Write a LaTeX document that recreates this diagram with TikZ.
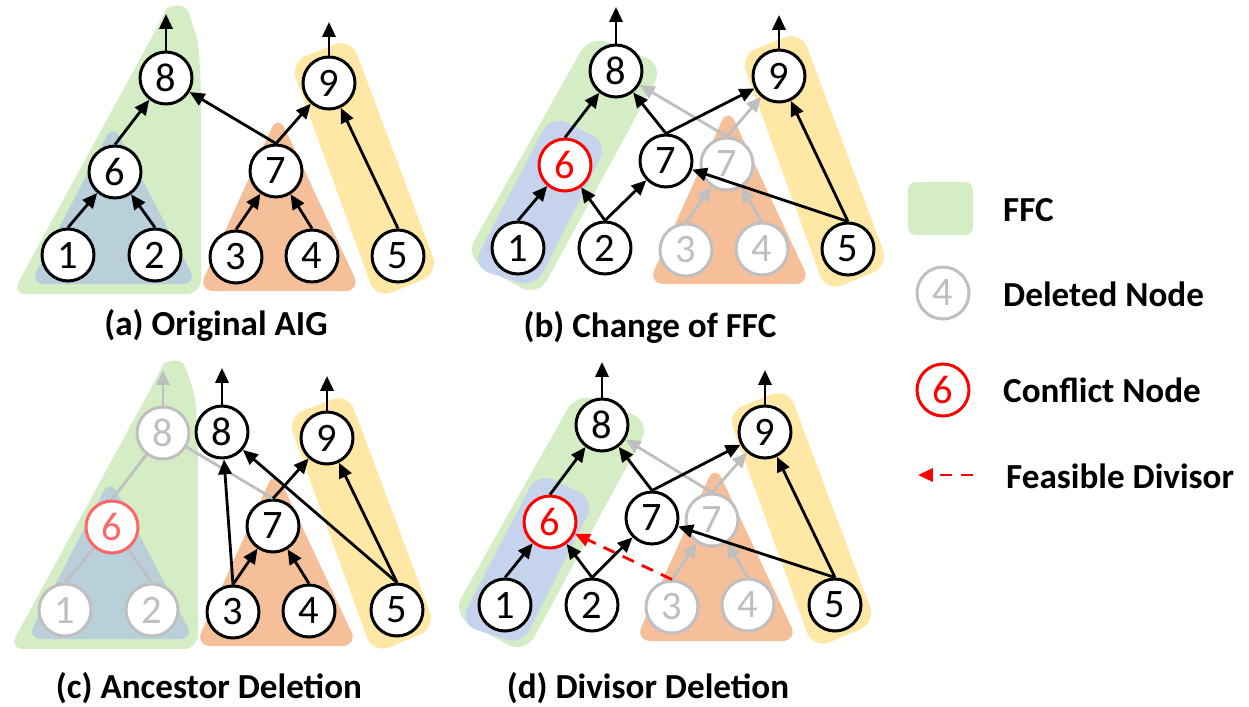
\documentclass[tikz,border=0pt]{standalone}
\usepackage{fontspec}
\setmainfont{Carlito}
\usepackage{xcolor}
\usepackage{tikz}
\usetikzlibrary{arrows.meta}
\definecolor{FFCG}{HTML}{D5EDC5}
\definecolor{INNA}{HTML}{B9CFDA}
\definecolor{INNB}{HTML}{C6D3EC}
\definecolor{CONE}{HTML}{F5BF99}
\definecolor{OUTY}{HTML}{FFE8A5}
\definecolor{DEL}{HTML}{BFBFBF}
\definecolor{CONF}{HTML}{FF0000}

\begin{document}
\begin{tikzpicture}[
    x=0.02cm, y=-0.02cm,
    aig/.style={circle, draw=black, fill=white, line width=1.7pt, minimum size=1.04cm,
      inner sep=0pt, font=\fontsize{23}{26}\selectfont},
    deleted/.style={aig, draw=DEL, text=DEL},
    conflict/.style={aig, draw=CONF, text=CONF},
    edge/.style={-{Triangle[length=8.5pt, width=7.5pt]}, line width=1.6pt},
    gedge/.style={edge, DEL},
    gline/.style={DEL, line width=1.6pt},
    divisor/.style={edge, CONF, dash pattern=on 7pt off 5pt},
    caption/.style={font=\fontsize{20}{24}\selectfont\bfseries},
    legtext/.style={font=\fontsize{20}{24}\selectfont\bfseries, anchor=west},
  ]
  \useasboundingbox (0,0) rectangle (1249,707);

  % (a) original AIG
  \begin{scope}
    \fill[FFCG, rounded corners=8pt] (12,294) -- (160,22) .. controls (168,6) and (185,2) .. (193,25)
      .. controls (199,45) and (201,80) .. (201,120) -- (201,294) -- cycle;
    \fill[INNA, rounded corners=8pt] (30,284) -- (113,124) -- (197,284) -- cycle;
    \fill[CONE, rounded corners=9pt] (198,291) -- (278,114) -- (361,291) -- cycle;
    \fill[OUTY, rounded corners=10pt] (290,62) -- (351,38) -- (439,273) -- (376,299) -- cycle;
    \node (a1) [aig] at (68,255) {1};
    \node (a2) [aig] at (155,255) {2};
    \node (a3) [aig] at (236,257) {3};
    \node (a4) [aig] at (312,256) {4};
    \node (a5) [aig] at (398,256) {5};
    \node (a6) [aig] at (115,172) {6};
    \node (a7) [aig] at (276,171) {7};
    \node (a8) [aig] at (166,78) {8};
    \node (a9) [aig] at (329,83) {9};
    \coordinate (a8o) at (166,14);
    \coordinate (a9o) at (329,22);
    \draw[edge] (a1.north) -- (a6);
    \draw[edge] (a2.north) -- (a6);
    \draw[edge] (a6.north) -- (a8);
    \draw[edge] (a3.north) -- (a7);
    \draw[edge] (a4.north) -- (a7);
    \draw[edge] (a7.north) -- (a8);
    \draw[edge] (a7.north) -- (a9);
    \draw[edge] (a5.north) -- (a9);
    \draw[edge] (a8.north) -- (a8o);
    \draw[edge] (a9.north) -- (a9o);
  \end{scope}

  % (b) change of FFC
  \begin{scope}[shift={(450,-7)}]
    \fill[FFCG, rounded corners=11pt] (140,42) -- (214,72) -- (88,304) -- (15,264) -- cycle;
    \fill[INNB, rounded corners=10pt] (101,122) -- (158,150) -- (85,295) -- (22,274) -- cycle;
    \fill[CONE, rounded corners=9pt] (198,291) -- (278,114) -- (361,291) -- cycle;
    \fill[OUTY, rounded corners=10pt] (290,62) -- (351,38) -- (439,273) -- (376,299) -- cycle;
    \node (b1) [aig] at (68,255) {1};
    \node (b2) [aig] at (155,255) {2};
    \node (b3) [deleted] at (236,257) {3};
    \node (b4) [deleted] at (312,256) {4};
    \node (b5) [aig] at (398,256) {5};
    \node (b6) [conflict] at (115,172) {6};
    \node (b7) [deleted] at (277,171) {7};
    \node (b7n) [aig] at (216,168) {7};
    \node (b8) [aig] at (166,78) {8};
    \node (b9) [aig] at (329,83) {9};
    \coordinate (b8o) at (166,14);
    \coordinate (b9o) at (329,22);
    \draw[gedge] (b3.north) -- (b7);
    \draw[gedge] (b4.north) -- (b7);
    \draw[gedge] (b7.north) -- (b8);
    \draw[gedge] (b7.north) -- (b9);
    \draw[edge] (b1.north) -- (b6);
    \draw[edge] (b2.north) -- (b6);
    \draw[edge] (b2.north) -- (b7n);
    \draw[edge] (b6.north) -- (b8);
    \draw[edge] (b7n.north) -- (b8);
    \draw[edge] (b7n.north) -- (b9);
    \draw[edge] (b5.north) -- (b9);
    \draw[edge] (b5.north) -- (b7n);
    \draw[edge] (b8.north) -- (b8o);
    \draw[edge] (b9.north) -- (b9o);
  \end{scope}

  % (c) ancestor deletion
  \begin{scope}[shift={(-3,355)}]
    \fill[FFCG, rounded corners=8pt] (12,294) -- (160,22) .. controls (168,6) and (185,2) .. (193,25)
      .. controls (199,45) and (201,80) .. (201,120) -- (201,294) -- cycle;
    \fill[INNA, rounded corners=8pt] (30,284) -- (113,124) -- (197,284) -- cycle;
    \fill[CONE, rounded corners=9pt] (198,291) -- (278,114) -- (361,291) -- cycle;
    \fill[OUTY, rounded corners=10pt] (290,62) -- (351,38) -- (439,273) -- (376,299) -- cycle;
    \node (c1) [deleted] at (68,255) {1};
    \node (c2) [deleted] at (155,255) {2};
    \node (c3) [aig] at (236,257) {3};
    \node (c4) [aig] at (312,256) {4};
    \node (c5) [aig] at (400,255) {5};
    \node (c6) [conflict, draw=CONF!60, text=CONF!60] at (115,172) {6};
    \node (c7) [aig] at (276,171) {7};
    \node (c8) [deleted] at (166,78) {8};
    \node (c8n) [aig] at (225,77) {8};
    \node (c9) [aig] at (330,83) {9};
    \coordinate (c8o) at (166,15);
    \coordinate (c8no) at (225,13);
    \coordinate (c9o) at (330,21);
    \draw[gline] (c1.north) -- (c6);
    \draw[gline] (c2.north) -- (c6);
    \draw[gline] (c6.north) -- (c8);
    \draw[gline] (c7.north) -- (c8);
    \draw[gedge] (c8.north) -- (c8o);
    \draw[edge] (c3.north) -- (c8n);
    \draw[edge] (c3.north) -- (c7);
    \draw[edge] (c4.north) -- (c7);
    \draw[edge] (c7.north) -- (c9);
    \draw[edge] (c5.north) -- (c9);
    \draw[edge] (c5.north) -- (c8n);
    \draw[edge] (c8n.north) -- (c8no);
    \draw[edge] (c9.north) -- (c9o);
  \end{scope}

  % (d) divisor deletion
  \begin{scope}[shift={(437,350)}]
    \fill[FFCG, rounded corners=11pt] (140,42) -- (214,72) -- (88,304) -- (15,264) -- cycle;
    \fill[INNB, rounded corners=10pt] (101,122) -- (158,150) -- (85,295) -- (22,274) -- cycle;
    \fill[CONE, rounded corners=9pt] (198,291) -- (278,114) -- (361,291) -- cycle;
    \fill[OUTY, rounded corners=10pt] (290,62) -- (351,38) -- (439,273) -- (376,299) -- cycle;
    \node (d1) [aig] at (68,255) {1};
    \node (d2) [aig] at (155,255) {2};
    \node (d3) [deleted] at (235,257) {3};
    \node (d4) [deleted] at (311,255) {4};
    \node (d5) [aig] at (398,255) {5};
    \node (d6) [conflict] at (113,172) {6};
    \node (d7) [deleted] at (275,170) {7};
    \node (d7n) [aig] at (215,168) {7};
    \node (d8) [aig] at (165,75) {8};
    \node (d9) [aig] at (328,82) {9};
    \coordinate (d8o) at (165,12);
    \coordinate (d9o) at (328,20);
    \draw[gedge] (d3.north) -- (d7);
    \draw[gedge] (d4.north) -- (d7);
    \draw[gedge] (d7.north) -- (d8);
    \draw[gedge] (d7.north) -- (d9);
    \draw[edge] (d1.north) -- (d6);
    \draw[edge] (d2.north) -- (d6);
    \draw[edge] (d2.north) -- (d7n);
    \draw[edge] (d6.north) -- (d8);
    \draw[edge] (d7n.north) -- (d8);
    \draw[edge] (d7n.north) -- (d9);
    \draw[edge] (d5.north) -- (d9);
    \draw[edge] (d5.north) -- (d7n);
    \draw[divisor] (d3.north) -- (d6);
    \draw[edge] (d8.north) -- (d8o);
    \draw[edge] (d9.north) -- (d9o);
  \end{scope}

  % captions
  \node (capa) [caption] at (216,325) {(a) Original AIG};
  \node (capb) [caption] at (650,327) {(b) Change of FFC};
  \node (capc) [caption] at (209,688) {(c) Ancestor Deletion};
  \node (capd) [caption] at (648,688) {(d) Divisor Deletion};

  % legend
  \fill[FFCG, rounded corners=4.5pt] (908,182) rectangle (973,235);
  \node (lgffc) [legtext] at (997,210) {FFC};
  \node (lgdel) [deleted] at (943,293) {4};
  \node (lgdelt) [legtext] at (997,294) {Deleted Node};
  \node (lgconf) [conflict] at (943,390) {6};
  \node (lgconft) [legtext] at (997,390) {Conflict Node};
  \coordinate (lgdiv0) at (973,475);
  \coordinate (lgdiv1) at (918,475);
  \draw[divisor] (lgdiv0) -- (lgdiv1);
  \node (lgdivt) [legtext] at (1000,476) {Feasible Divisor};

\end{tikzpicture}
\end{document}
